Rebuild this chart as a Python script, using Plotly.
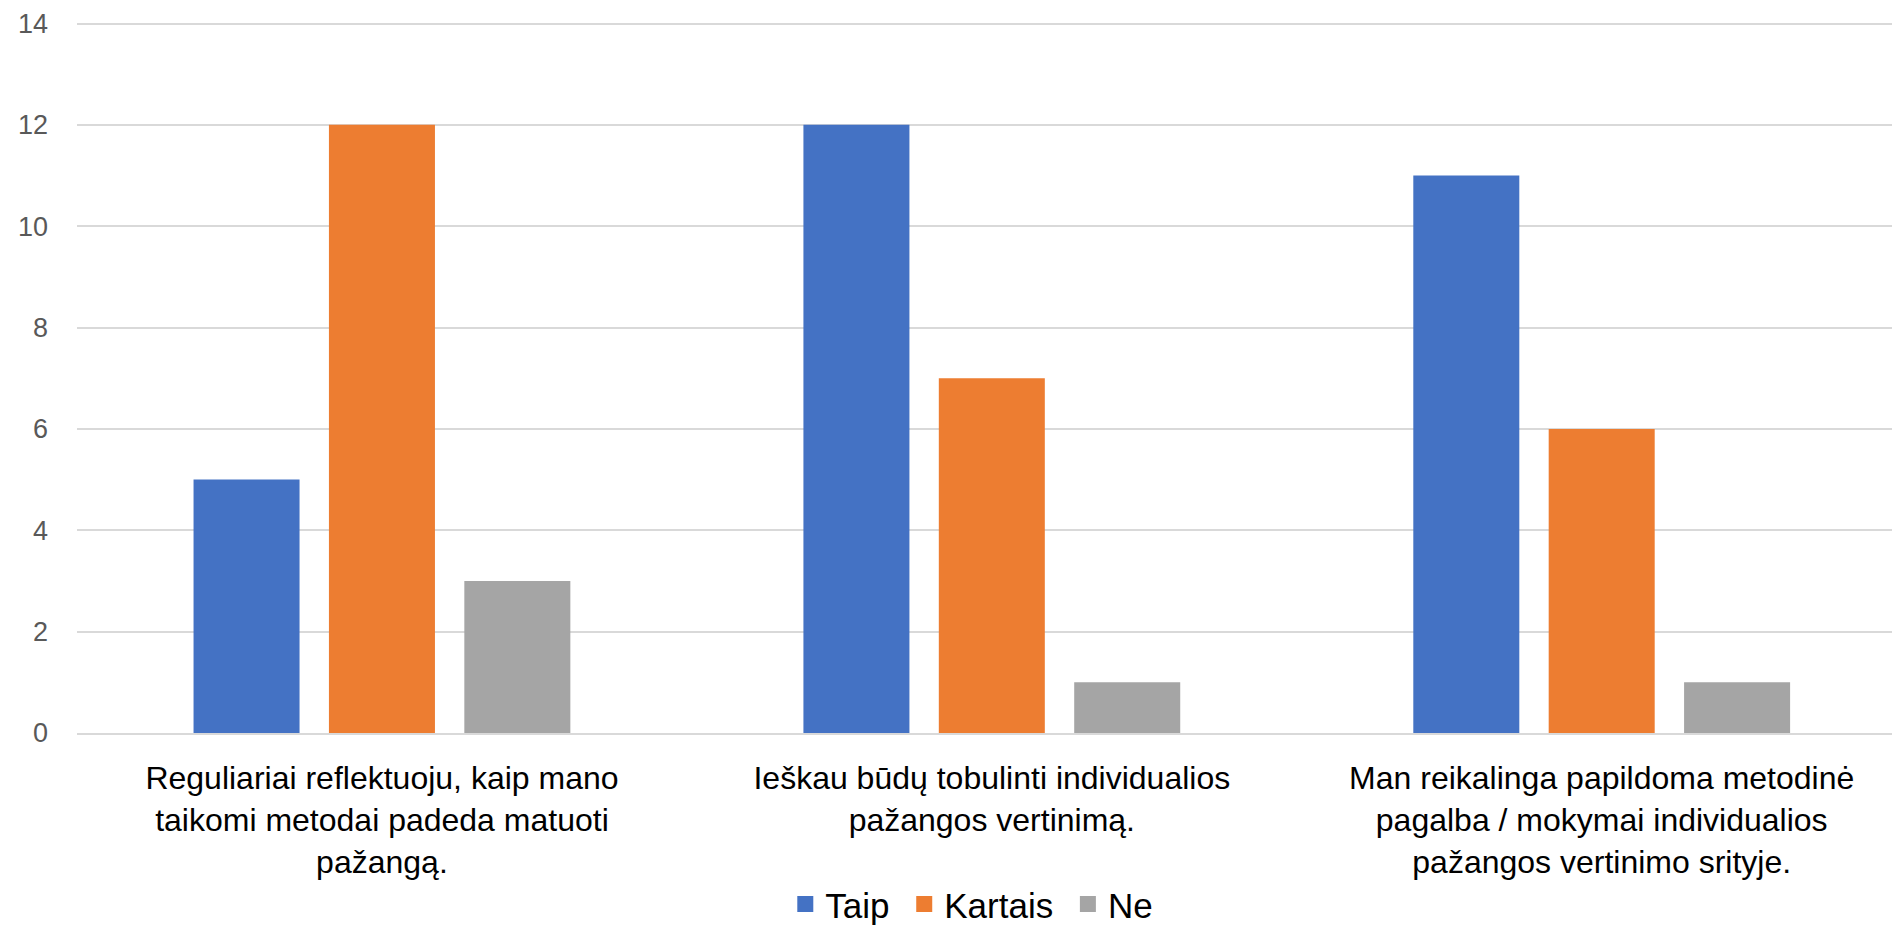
import plotly.graph_objects as go

categories = [
    "Reguliariai reflektuoju, kaip mano<br>taikomi metodai padeda matuoti<br>pažangą.",
    "Ieškau būdų tobulinti individualios<br>pažangos vertinimą.",
    "Man reikalinga papildoma metodinė<br>pagalba / mokymai individualios<br>pažangos vertinimo srityje.",
]
series_names = ["Taip", "Kartais", "Ne"]
taip = [5, 12, 11]
kartais = [12, 7, 6]
ne = [3, 1, 1]
colors = ["#4472C4", "#ED7D31", "#A5A5A5"]
y_ticks = [0, 2, 4, 6, 8, 10, 12, 14]

TXT = '"Liberation Sans", Arial, sans-serif'

W, H = 1892, 928
fig = go.Figure()
xs = list(range(len(categories)))
for name, vals, col in zip(series_names, [taip, kartais, ne], colors):
    fig.add_trace(go.Bar(x=xs, y=vals, name=name, marker=dict(color=col, line=dict(width=0)),
                         showlegend=False))
for i, (name, col) in enumerate(zip(series_names, colors)):
    label = name + ("\u00a0" if i < len(series_names) - 1 else "")
    fig.add_trace(go.Scatter(x=[None], y=[None], mode="markers", name=label,
                             marker=dict(symbol="square", size=16, color=col)))

fig.update_layout(
    template="none",
    width=W, height=H, autosize=False,
    margin=dict(l=77, r=0, t=22, b=195, pad=0, autoexpand=False),
    plot_bgcolor="white", paper_bgcolor="white",
    barmode="group", bargap=0.334, bargroupgap=0.217,
    legend=dict(orientation="h", x=0.493, xanchor="center", y=-0.241, yanchor="middle",
                font=dict(family=TXT, size=35, color="#000000"),
                itemsizing="trace"),
    font=dict(family=TXT),
)
fig.update_xaxes(
    range=[-0.5, 2.476], tickmode="array", tickvals=xs, ticktext=categories,
    tickfont=dict(family=TXT, size=32, color="#000000"),
    showgrid=False, showline=True, linecolor="#D9D9D9", linewidth=2, ticks="",
    ticklabelstandoff=16, automargin=False, zeroline=False,
)
fig.update_yaxes(
    range=[0, 14.03], tickmode="array", tickvals=y_ticks, ticktext=[str(v) for v in y_ticks],
    tickfont=dict(family=TXT, size=27, color="#595959"),
    showgrid=True, gridcolor="#D9D9D9", gridwidth=2, zeroline=False, showline=False,
    ticks="", ticklabelstandoff=28, automargin=False,
)
fig.write_html("out.html", config={"displayModeBar": False},
               post_script="document.body.style.margin='0';")
